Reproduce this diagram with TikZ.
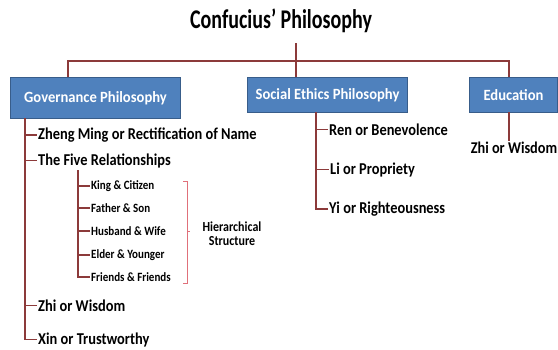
\documentclass[tikz,border=0pt]{standalone}
\usepackage{graphicx}
\usepackage{fontspec}
\setmainfont{Carlito}
\newcommand{\tallx}[1]{\scalebox{1}[1.15]{#1}}
\definecolor{conn}{HTML}{8C3A3A}
\definecolor{boxfill}{HTML}{4F81BD}
\definecolor{boxline}{HTML}{385D8A}
\definecolor{brack}{HTML}{E0707A}
\begin{document}
\begin{tikzpicture}[x=1pt,y=-1pt,
  cline/.style={draw=conn,line width=1.2pt},
  hbox/.style={draw=boxline,fill=boxfill,line width=1pt,text=white,font=\fontsize{14.6}{16}\selectfont\bfseries,inner sep=0pt,anchor=north west},
  item/.style={anchor=mid west,inner sep=1pt,font=\fontsize{14.4}{17}\selectfont\bfseries},
  sub/.style={anchor=mid west,inner sep=1pt,font=\fontsize{11}{13}\selectfont\bfseries}]
\useasboundingbox (0,0) rectangle (558,349);
\node[font=\fontsize{27}{30}\selectfont\bfseries,inner sep=0pt] (title) at (281,21) {\scalebox{0.74}[1]{Confucius’ Philosophy}};
\node[hbox,minimum width=170pt,minimum height=41pt] (gov) at (10,77) {\scalebox{1}[1.07]{Governance Philosophy}};
\node[hbox,minimum width=160pt,minimum height=35pt] (soc) at (247,77) {\scalebox{1}[1.07]{Social Ethics Philosophy}};
\node[hbox,minimum width=88pt,minimum height=35pt] (edu) at (469,77) {\scalebox{1}[1.07]{Education}};
% top connectors
\coordinate (tt) at (296,43);
\draw[cline] (tt) -- (soc.north -| tt);
\coordinate (hl) at (68,61);
\coordinate (hr) at (509,61);
\draw[cline] (gov.north -| hl) -- (hl) -- (hr) -- (edu.north -| hr);
% governance items
\node[item] (zm) at (37,137) {\tallx{Zheng Ming or Rectification of Name}};
\node[item] (five) at (37,163) {\tallx{The Five Relationships}};
\node[item] (zhi1) at (37,309) {\tallx{Zhi or Wisdom}};
\node[item] (xin) at (37,342) {\tallx{Xin or Trustworthy}};
\coordinate (gt) at (25,118);
\draw[cline] (gt) |- (xin.west);
\foreach \n in {zm,five,zhi1} \draw[cline] (gt |- \n.west) -- (\n.west);
% five relationships
\node[sub] (k) at (90,187) {\tallx{King \& Citizen}};
\node[sub] (f) at (90,210) {\tallx{Father \& Son}};
\node[sub] (h) at (90,233) {\tallx{Husband \& Wife}};
\node[sub] (e) at (90,256) {\tallx{Elder \& Younger}};
\node[sub] (fr) at (90,279) {\tallx{Friends \& Friends}};
\coordinate (st) at (78,170);
\draw[cline] (st) |- (fr.west);
\foreach \n in {k,f,h,e} \draw[cline] (st |- \n.west) -- (\n.west);
% bracket
\coordinate (b1) at (183,181);
\coordinate (b2) at (187,181);
\coordinate (b3) at (187,283);
\coordinate (b4) at (183,283);
\coordinate (bm) at (187,231);
\coordinate (bn) at (190,231);
\draw[draw=brack,line width=0.9pt] (b1) -- (b2) -- (b3) -- (b4);
\draw[draw=brack,line width=0.9pt] (bm) -- (bn);
\node[font=\fontsize{12}{14}\selectfont\bfseries,align=center] (hs) at (232,234) {\tallx{Hierarchical}\\\tallx{Structure}};
% social ethics items
\node[item] (ren) at (328,133) {\tallx{Ren or Benevolence}};
\node[item] (li) at (329,172) {\tallx{Li or Propriety}};
\node[item] (yi) at (328,211) {\tallx{Yi or Righteousness}};
\coordinate (sx) at (316,112);
\draw[cline] (sx) |- (yi.west);
\foreach \n in {ren,li} \draw[cline] (sx |- \n.west) -- (\n.west);
% education
\node[font=\fontsize{14.3}{17}\selectfont\bfseries,inner sep=1pt] (zhi2) at (514,148) {\tallx{Zhi or Wisdom}};
\coordinate (ex) at (509,112);
\draw[cline] (ex) -- (ex |- zhi2.north);
\end{tikzpicture}
\end{document}
